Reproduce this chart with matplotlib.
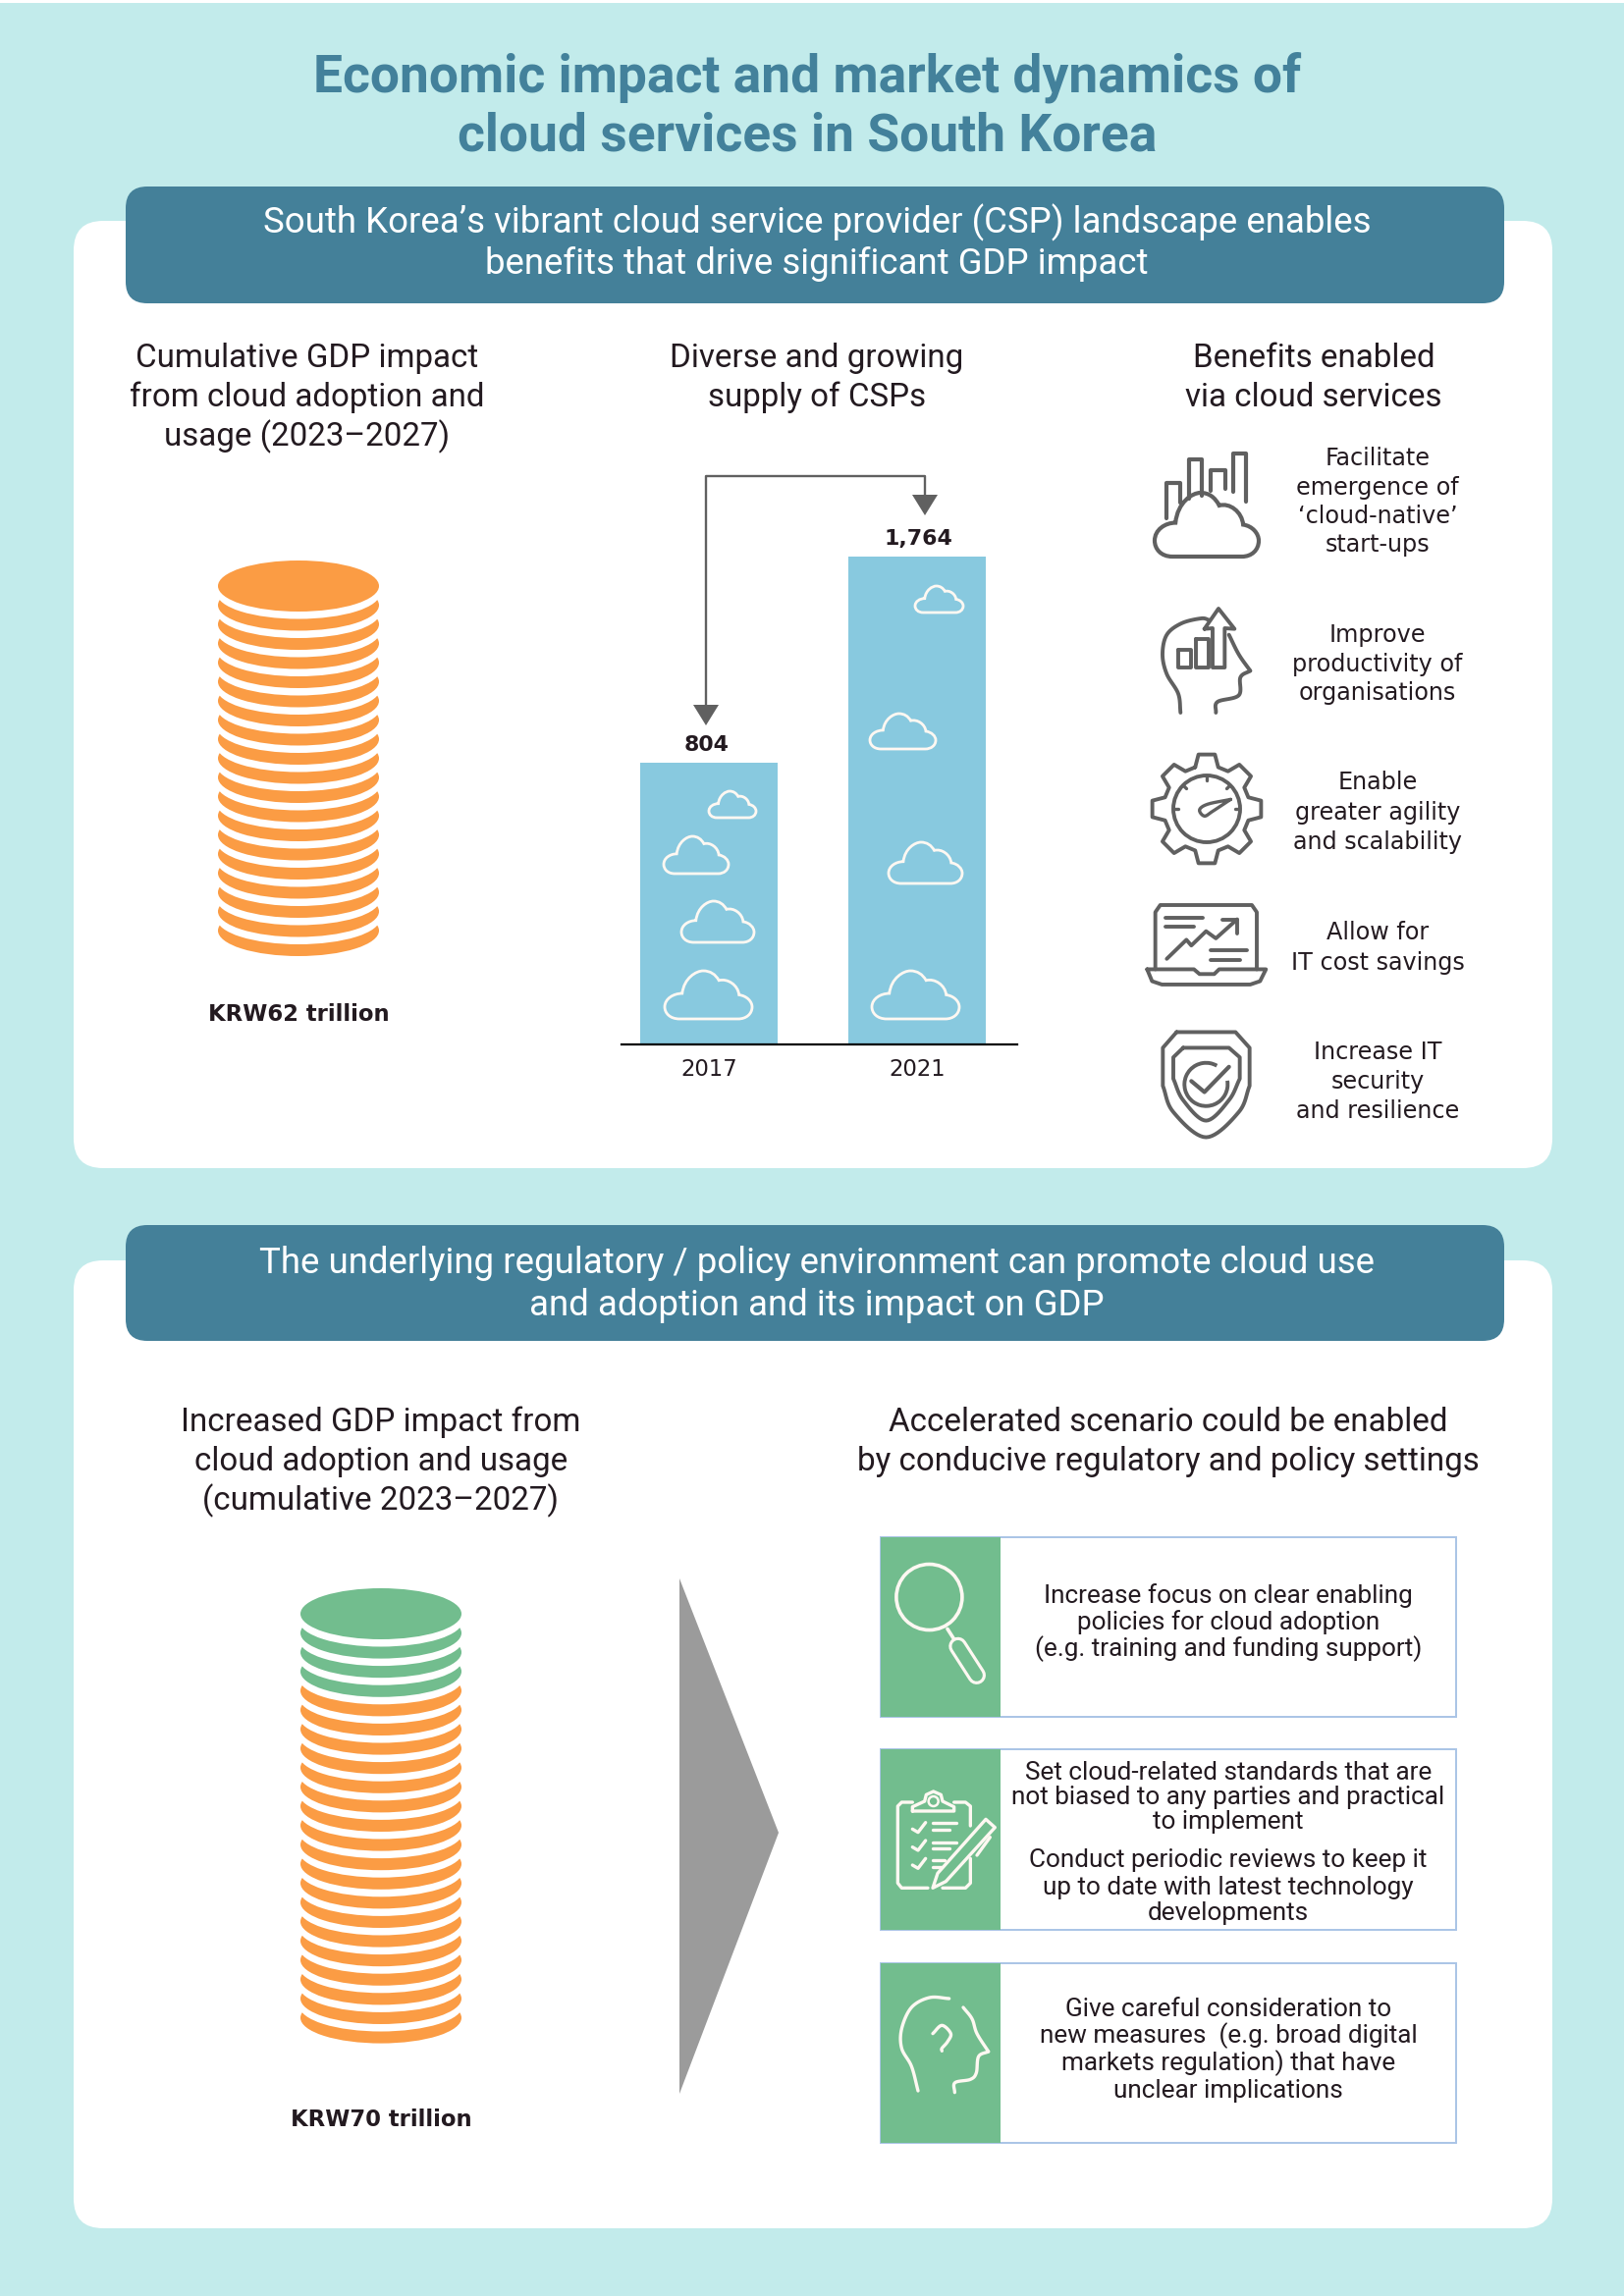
import numpy as np
import matplotlib
matplotlib.use("Agg")
import matplotlib.pyplot as plt
from matplotlib.patches import FancyBboxPatch, Rectangle, Ellipse, Polygon, Circle, PathPatch, Arc
from matplotlib.path import Path

# ---- data
years = ["2017", "2021"]
csp_counts = [804, 1764]
csp_labels = ["804", "1,764"]
gdp_labels = ["KRW62 trillion", "KRW70 trillion"]
base_discs = [19, 18]
extra_discs = [0, 4]
title_lines = ["Economic impact and market dynamics of", "cloud services in South Korea"]
header1 = ["South Korea\u2019s vibrant cloud service provider (CSP) landscape enables",
           "benefits that drive significant GDP impact"]
header2 = ["The underlying regulatory / policy environment can promote cloud use",
           "and adoption and its impact on GDP"]
sub_a = ["Cumulative GDP impact", "from cloud adoption and", "usage (2023\u20132027)"]
sub_b = ["Diverse and growing", "supply of CSPs"]
sub_c = ["Benefits enabled", "via cloud services"]
sub_d = ["Increased GDP impact from", "cloud adoption and usage", "(cumulative 2023\u20132027)"]
sub_e = ["Accelerated scenario could be enabled", "by conducive regulatory and policy settings"]
benefits = [["Facilitate", "emergence of", "\u2018cloud-native\u2019", "start-ups"],
            ["Improve", "productivity of", "organisations"],
            ["Enable", "greater agility", "and scalability"],
            ["Allow for", "IT cost savings"],
            ["Increase IT", "security", "and resilience"]]
benefit_y = [[467, 497, 526, 555], [647, 677, 706], [797, 828, 858], [950, 981], [1072, 1102, 1132]]
policies = [["Increase focus on clear enabling", "policies for cloud adoption", "(e.g. training and funding support)"],
            ["Set cloud-related standards that are", "not biased to any parties and practical", "to implement",
             "Conduct periodic reviews to keep it", "up to date with latest technology", "developments"],
            ["Give careful consideration to", "new measures  (e.g. broad digital", "markets regulation) that have",
             "unclear implications"]]
policy_y = [[1626, 1653, 1680], [1806, 1831, 1856, 1895, 1923, 1949], [2047, 2074, 2102, 2130]]

# ---- style
BG = "#C2EBEB"; TEAL = "#448099"; TITLE = "#43819B"; ORANGE = "#FB9C44"; GREEN = "#72BD8E"
BAR = "#88C9DF"; GRAY = "#606060"; INK = "#231A20"; EDGE = "#A9C4E6"; CREAM = "#FFF8F2"
DIN = ["Roboto", "DejaVu Sans"]
WIDE = ["DejaVu Sans"]
W, H = 1654, 2339

fig = plt.figure(figsize=(W / 100, H / 100), dpi=100, facecolor=BG)
def px_axes(z):
    a = fig.add_axes([0, 0, 1, 1], zorder=z)
    a.set_xlim(0, W); a.set_ylim(H, 0); a.axis("off"); a.patch.set_alpha(0)
    return a
ax = px_axes(1)
ov = px_axes(3)

def T(a, x, y, s, size, color=INK, weight="normal", family=DIN):
    a.text(x, y, s, fontsize=size, color=color, fontweight=weight, family=family, ha="center", va="center")

def rrect(x0, y0, x1, y1, r, fc, ec="none", z=1):
    ax.add_patch(FancyBboxPatch((x0, y0), x1 - x0, y1 - y0, boxstyle=f"round,pad=0,rounding_size={r}",
                                fc=fc, ec=ec, lw=0, zorder=z))

ax.add_patch(Rectangle((0, 0), W, 3, fc="white", ec="none"))
rrect(75, 225, 1581, 1190, 30, "white")
rrect(75, 1284, 1581, 2270, 30, "white")
rrect(128, 190, 1532, 309, 22, TEAL, z=2)
rrect(128, 1248, 1532, 1366, 22, TEAL, z=2)

for s, y in zip(title_lines, [79, 139]):
    T(ax, 822, y, s, 38.4, TITLE, "bold")
for s, y in zip(header1, [227, 269]):
    T(ax, 832, y, s, 26.4, "white")
for s, y in zip(header2, [1287, 1330]):
    T(ax, 832, y, s, 26.4, "white")
for lines, xc, ys in [(sub_a, 313, [365, 405, 445]), (sub_b, 832, [365, 405]), (sub_c, 1338, [365, 405]),
                      (sub_d, 388, [1449, 1489, 1529]), (sub_e, 1190, [1449, 1489])]:
    for s, y in zip(lines, ys):
        T(ax, xc, y, s, 23.9)

# ---- helpers for line icons
def smooth(pts, n=12):
    p = np.array(pts, float)
    q = np.vstack([2 * p[0] - p[1], p, 2 * p[-1] - p[-2]])
    out = []
    for i in range(1, len(q) - 2):
        p0, p1, p2, p3 = q[i - 1], q[i], q[i + 1], q[i + 2]
        for t in np.linspace(0, 1, n, endpoint=False):
            out.append(0.5 * (2 * p1 + (p2 - p0) * t + (2 * p0 - 5 * p1 + 4 * p2 - p3) * t ** 2
                              + (3 * p1 - p0 - 3 * p2 + p3) * t ** 3))
    out.append(p[-1])
    return np.array(out)

def L(pts, color=GRAY, lw=2.8, z=5):
    p = np.array(pts, float)
    ov.plot(p[:, 0], p[:, 1], color=color, lw=lw, solid_capstyle="round", solid_joinstyle="round", zorder=z)

CLOUD = [(Path.MOVETO, (0.17, 1.0)), (Path.CURVE4, (0.06, 1.0)), (Path.CURVE4, (0.0, 0.88)), (Path.CURVE4, (0.0, 0.75)),
         (Path.CURVE4, (0.0, 0.58)), (Path.CURVE4, (0.1, 0.47)), (Path.CURVE4, (0.2, 0.47)),
         (Path.CURVE4, (0.22, 0.15)), (Path.CURVE4, (0.36, 0.0)), (Path.CURVE4, (0.44, 0.0)),
         (Path.CURVE4, (0.52, 0.0)), (Path.CURVE4, (0.58, 0.07)), (Path.CURVE4, (0.62, 0.2)),
         (Path.CURVE4, (0.72, 0.15)), (Path.CURVE4, (0.84, 0.3)), (Path.CURVE4, (0.85, 0.5)),
         (Path.CURVE4, (0.94, 0.52)), (Path.CURVE4, (1.0, 0.64)), (Path.CURVE4, (1.0, 0.75)),
         (Path.CURVE4, (1.0, 0.9)), (Path.CURVE4, (0.93, 1.0)), (Path.CURVE4, (0.84, 1.0)),
         (Path.CLOSEPOLY, (0.17, 1.0))]
def cloud(x0, y0, x1, y1, color=CREAM, lw=2.0):
    codes = [c for c, _ in CLOUD]
    v = np.array([p for _, p in CLOUD]) * [x1 - x0, y1 - y0] + [x0, y0]
    ov.add_patch(PathPatch(Path(v, codes), fc="none", ec=color, lw=lw, zorder=5))

# ---- coin stacks: each disc sits on a white gap cut into the disc below it
def stack(xc, cy_top, pitch, n_base, n_extra):
    n = n_base + n_extra
    for i in range(n - 1, -1, -1):
        cy = cy_top + i * pitch
        col = GREEN if i < n_extra else ORANGE
        if i < n - 1:
            ov.add_patch(Ellipse((xc, cy + 7.5), 166, 52, fc="white", ec="none", zorder=2))
        ov.add_patch(Ellipse((xc, cy), 164, 52, fc=col, ec="none", zorder=2))

stack(304, 597, 19.5, base_discs[0], extra_discs[0])
stack(388, 1644, 19.6, base_discs[1], extra_discs[1])
T(ax, 304, 1034, gdp_labels[0], 16.4, weight="bold", family=WIDE)
T(ax, 388, 2160, gdp_labels[1], 16.4, weight="bold", family=WIDE)

# ---- bar chart (its own axes and scale)
x_pitch = 212.0
bar_bottom_px, bar_top_px = 1064, 500
px_per_unit = (777 - 567) / (csp_counts[1] - csp_counts[0])
floor_val = csp_counts[0] - (bar_bottom_px - 777) / px_per_unit
top_val = csp_counts[0] + (777 - bar_top_px) / px_per_unit
bx = fig.add_axes([633 / W, 1 - bar_bottom_px / H, (1036 - 633) / W, (bar_bottom_px - bar_top_px) / H], zorder=2)
bx.patch.set_alpha(0)
xs = np.arange(len(years))
bx.bar(xs, [v - floor_val for v in csp_counts], bottom=floor_val, width=140 / x_pitch, color=BAR, linewidth=0)
bx.set_xlim((633 - 722) / x_pitch, (1036 - 722) / x_pitch)
bx.set_ylim(floor_val, top_val)
bx.set_xticks(xs, years, fontsize=16.4, color=INK, family=WIDE)
bx.tick_params(axis="x", length=0, pad=10)
bx.set_yticks([])
for k in ["top", "left", "right"]:
    bx.spines[k].set_visible(False)
bx.spines["bottom"].set_linewidth(1.6)
bx.spines["bottom"].set_color("black")
for x, v, s in zip(xs, csp_counts, csp_labels):
    bx.annotate(s, (x, v), xytext=(-2 if x == 0 else 1, 9), textcoords="offset points", ha="center", va="baseline",
                fontsize=15.8, fontweight="bold", color=INK, family=WIDE)

# clouds on the bars
for box in [(722, 806, 770, 833), (676, 852, 742, 890), (694, 918, 768, 960), (677, 989, 766, 1038),
            (932, 597, 981, 624), (886, 727, 953, 763), (905, 858, 980, 900), (888, 989, 977, 1038)]:
    cloud(*box)

# growth arrow
L([(719, 720), (719, 485), (942, 485), (942, 505)], GRAY, 1.7)
ov.add_patch(Polygon([(706, 718), (732, 718), (719, 739)], fc=GRAY, ec="none", zorder=5))
ov.add_patch(Polygon([(929, 504), (955, 504), (942, 525)], fc=GRAY, ec="none", zorder=5))

# ---- benefits text
for lines, ys in zip(benefits, benefit_y):
    for s, y in zip(lines, ys):
        T(ax, 1403, y, s, 17.2, family=WIDE)

# ---- benefit icons
z8 = lambda pts: [(1160 + x / 3, 450 + y / 3) for x, y in pts]
z3 = lambda pts: [(1130 + x / 3, 430 + y / 2.063) for x, y in pts]
cloud(1176, 502, 1282, 567, GRAY, 3.0)
for a in [[(83, 235), (83, 125), (125, 125), (125, 185)], [(152, 175), (152, 55), (192, 55), (192, 165)],
          [(220, 150), (220, 88), (265, 88), (265, 145)], [(288, 152), (288, 37), (328, 37), (328, 183)]]:
    L(z8(a), lw=3.0)
L(smooth(z8([(127, 828), (120, 770), (85, 710), (72, 650), (85, 590), (130, 555), (190, 540), (215, 545)])))
L(smooth(z8([(275, 590), (305, 650), (340, 700)])))
L(smooth(z8([(340, 700), (310, 720), (305, 775), (240, 795), (235, 828)])))
L(z8([(200, 572), (243, 510), (292, 572), (262, 570), (262, 690), (225, 690), (225, 570), (200, 572)]))
L(z8([(120, 635), (158, 635), (158, 690), (120, 690), (120, 635)]))
L(z8([(175, 603), (212, 603), (212, 690), (175, 690), (175, 603)]))

# gear
gx, gy, ro, ri = 1229, 824, 56, 44
gear = []
for k in range(8):
    th = np.deg2rad(k * 45 - 90)
    for dth, r in [(-0.27, ri), (-0.15, ro), (0.15, ro), (0.27, ri)]:
        gear.append((gx + r * np.cos(th + dth), gy + r * np.sin(th + dth)))
gear.append(gear[0])
L(gear)
ov.add_patch(Circle((gx, gy), 34, fc="none", ec=GRAY, lw=2.8, zorder=5))
for k in [-90, -135, -45, 180, 0]:
    th = np.deg2rad(k)
    L([(gx + 29 * np.cos(th), gy + 29 * np.sin(th)), (gx + 33 * np.cos(th), gy + 33 * np.sin(th))], lw=2.4)
L(smooth(z3([(370, 793), (300, 803), (275, 815), (290, 828), (315, 818), (370, 793)]), 6), lw=2.4)
# laptop
L(z3([(140, 1150), (140, 1030), (155, 1015), (435, 1015), (450, 1030), (450, 1150)]))
L(z3([(115, 1150), (258, 1150), (275, 1160), (320, 1160), (335, 1150), (478, 1150), (460, 1175), (430, 1182),
      (160, 1182), (130, 1175), (115, 1150)]))
for a in [[(170, 1042), (285, 1042)], [(170, 1060), (258, 1060)], [(310, 1110), (420, 1110)], [(310, 1130), (400, 1130)],
          [(175, 1128), (235, 1088), (250, 1100), (295, 1070), (325, 1085), (390, 1045)],
          [(345, 1045), (390, 1045), (390, 1075)]]:
    L(z3(a))
# shield
L(np.vstack([z3([(205, 1282), (385, 1282), (428, 1315), (428, 1395)]),
             smooth(z3([(428, 1395), (395, 1450), (295, 1503), (195, 1450), (163, 1395)])),
             z3([(163, 1315), (205, 1282)])]))
L(np.vstack([z3([(225, 1315), (365, 1315), (398, 1335), (398, 1380)]),
             smooth(z3([(398, 1380), (365, 1425), (295, 1468), (225, 1425), (195, 1380)])),
             z3([(195, 1335), (225, 1315)])]))
cx, cy = z3([(295, 1392)])[0]
ov.add_patch(Arc((cx, cy), 44, 44, theta1=-10, theta2=300, ec=GRAY, lw=2.8, zorder=5))
L(z3([(250, 1385), (290, 1408), (365, 1355)]), lw=3.0)

# ---- triangle
ax.add_patch(Polygon([(692, 1608), (793, 1867), (692, 2133)], fc="#9B9B9B", ec="none", zorder=2))

# ---- policy boxes
for y0, y1, lines, ys in zip([1566, 1782, 2000], [1749, 1966, 2183], policies, policy_y):
    ax.add_patch(Rectangle((897, y0), 1483 - 897, y1 - y0, fc="white", ec=EDGE, lw=1.4, zorder=2))
    ax.add_patch(Rectangle((897, y0), 1019 - 897, y1 - y0, fc=GREEN, ec="none", zorder=2))
    for s, y in zip(lines, ys):
        ax.text(1251, y, s, fontsize=18.8, color=INK, family=DIN, ha="center", va="center", zorder=3)

# ---- policy icons
z5 = lambda pts: [(880 + x / 2.53, 1550 + y / 2.376) for x, y in pts]
z9 = lambda pts: [(900 + x / 3, 1800 + y / 3) for x, y in pts]
c = z5([(168, 183)])[0]
ov.add_patch(Circle(c, 33.5, fc="none", ec=CREAM, lw=2.6, zorder=5))
L(z5([(215, 260), (232, 285)]), CREAM, 2.6)
L(z5([(242, 302), (290, 372)]), CREAM, 13.5)
L(z5([(242, 302), (290, 372)]), GREEN, 9, z=6)
for a in [[(88, 108), (55, 108), (43, 120), (43, 355), (55, 370), (135, 370)],
          [(180, 370), (250, 370), (265, 355), (265, 280)], [(265, 180), (265, 120), (250, 108), (215, 108)],
          [(88, 135), (88, 122), (125, 105), (130, 85), (152, 75), (175, 85), (180, 105), (215, 122), (215, 135), (88, 135)],
          [(88, 190), (105, 200), (128, 170)], [(88, 245), (105, 255), (128, 225)], [(88, 300), (105, 310), (128, 280)],
          [(150, 172), (222, 172)], [(150, 192), (200, 192)], [(150, 230), (222, 230)], [(150, 250), (200, 250)],
          [(150, 285), (185, 285)], [(150, 305), (180, 305)], [(325, 215), (285, 270)]]:
    L(z9(a), CREAM, 2.4)
ov.add_patch(Circle(z9([(152, 105)])[0], 5, fc="none", ec=CREAM, lw=1.8, zorder=5))
ov.add_patch(Polygon(z9([(150, 370), (165, 325), (312, 160), (340, 185), (190, 350)]), closed=True, fc=GREEN, ec=CREAM,
                     lw=2.4, joinstyle="round", zorder=6))
L(smooth(z9([(200, 708), (140, 705), (85, 735), (55, 800), (55, 860), (85, 915), (105, 990)])), CREAM, 2.4)
L(smooth(z9([(243, 735), (270, 770), (285, 815), (320, 870)])), CREAM, 2.4)
L(smooth(z9([(320, 870), (290, 885), (283, 935), (265, 955), (218, 965), (217, 995)])), CREAM, 2.4)
L(smooth(z9([(150, 815), (178, 790), (205, 815), (195, 840), (178, 860), (178, 868)])), CREAM, 2.4)
L(z9([(178, 893), (178, 895)]), CREAM, 3.0)

fig.savefig("out.png", dpi=100, facecolor=BG)
